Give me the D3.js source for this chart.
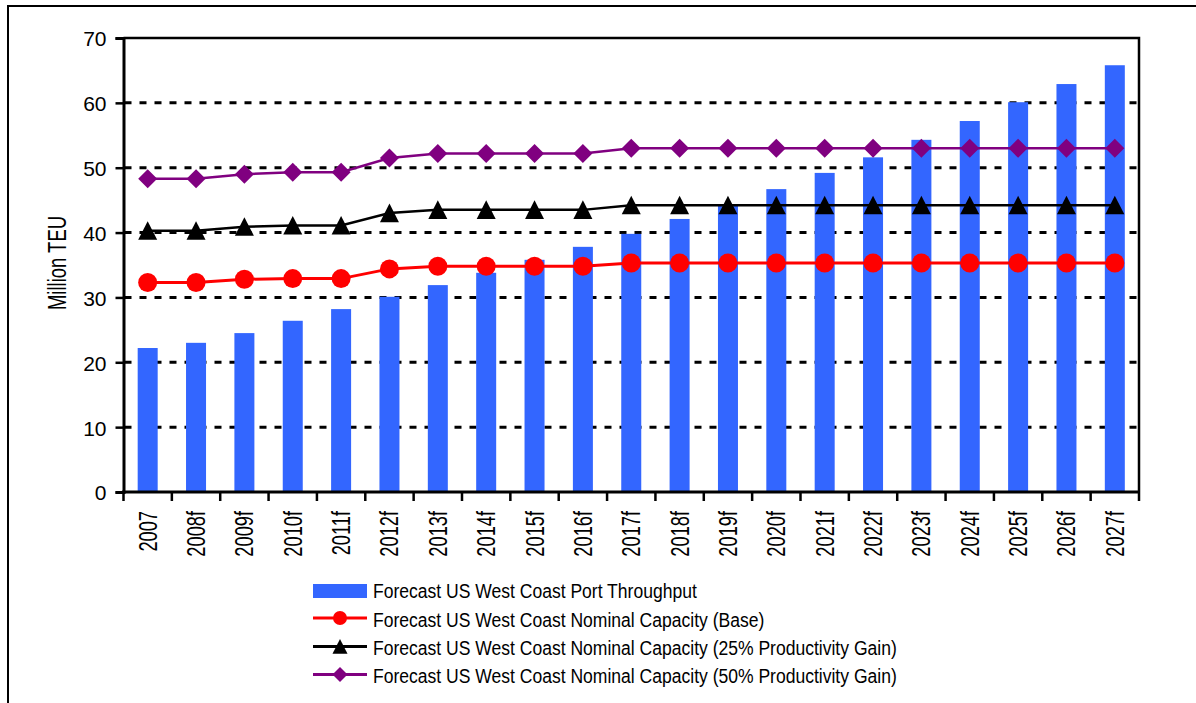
<!DOCTYPE html>
<html>
<head>
<meta charset="utf-8">
<script src="https://cdn.jsdelivr.net/npm/d3@7"></script>
<style>
  html, body { margin: 0; padding: 0; background: #fff; }
  svg { display: block; font-family: "Liberation Sans", Arial, sans-serif; }
</style>
</head>
<body>
<svg id="chart" width="1196" height="703"></svg>
<script>
// Years on the category axis
const years = ["2007", "2008f", "2009f", "2010f", "2011f", "2012f", "2013f", "2014f",
  "2015f", "2016f", "2017f", "2018f", "2019f", "2020f", "2021f", "2022f", "2023f",
  "2024f", "2025f", "2026f", "2027f"];

// Forecast throughput (million TEU)
const throughput = [22.2, 23.0, 24.5, 26.4, 28.2, 30.1, 31.9, 33.8, 35.8, 37.8, 39.8,
  42.1, 44.4, 46.7, 49.2, 51.6, 54.3, 57.2, 60.1, 62.9, 65.8];

// Nominal capacity scenarios (million TEU)
const capacityBase = [32.3, 32.3, 32.8, 32.9, 32.9, 34.4, 34.8, 34.8, 34.8, 34.8, 35.3,
  35.3, 35.3, 35.3, 35.3, 35.3, 35.3, 35.3, 35.3, 35.3, 35.3];
const capacity25 = [40.3, 40.3, 40.9, 41.1, 41.1, 43.0, 43.5, 43.5, 43.5, 43.5, 44.2,
  44.2, 44.2, 44.2, 44.2, 44.2, 44.2, 44.2, 44.2, 44.2, 44.2];
const capacity50 = [48.3, 48.3, 49.0, 49.3, 49.3, 51.5, 52.2, 52.2, 52.2, 52.2, 53.0,
  53.0, 53.0, 53.0, 53.0, 53.0, 53.0, 53.0, 53.0, 53.0, 53.0];

const yTicks = [0, 10, 20, 30, 40, 50, 60, 70];
const yTitle = "Million TEU";

const legendLabels = [
  "Forecast US West Coast Port Throughput",
  "Forecast US West Coast Nominal Capacity (Base)",
  "Forecast US West Coast Nominal Capacity (25% Productivity Gain)",
  "Forecast US West Coast Nominal Capacity (50% Productivity Gain)"
];

const svg = d3.select("#chart");
const plotL = 123.5, plotR = 1139, plotT = 38, plotB = 492;

const x = d3.scaleBand().domain(years).range([plotL, plotR]).padding(0);
const y = d3.scaleLinear().domain([0, 70]).range([plotB, plotT]);

// outer frame
svg.append("rect")
  .attr("x", 8).attr("y", 6).attr("width", 1300).attr("height", 800)
  .attr("fill", "none").attr("stroke", "#000").attr("stroke-width", 2);

// dashed gridlines
svg.append("g").selectAll("line")
  .data(yTicks.filter(t => t > 0 && t < 70))
  .join("line")
  .attr("x1", plotL + 1).attr("x2", plotR)
  .attr("y1", d => y(d)).attr("y2", d => y(d))
  .attr("stroke", "#000").attr("stroke-width", 3)
  .attr("stroke-dasharray", "7,8");

// throughput bars
const barW = 20;
svg.append("g").selectAll("rect")
  .data(throughput)
  .join("rect")
  .attr("x", (d, i) => x(years[i]) + x.bandwidth() / 2 - barW / 2)
  .attr("width", barW)
  .attr("y", d => y(d))
  .attr("height", d => y(0) - y(d))
  .attr("fill", "#3366FF");

// plot frame (top and right)
svg.append("path")
  .attr("d", `M${plotL},${plotT}H${plotR}V${plotB}`)
  .attr("fill", "none").attr("stroke", "#000").attr("stroke-width", 2.5);

// y axis
const yAxis = d3.axisLeft(y).tickValues(yTicks).tickSize(8).tickPadding(9);
const gy = svg.append("g").attr("transform", `translate(${plotL},0)`).call(yAxis);
gy.select(".domain").attr("stroke-width", 3);
gy.selectAll(".tick line").attr("stroke-width", 2.5);
gy.selectAll(".tick text")
  .attr("font-size", 21).attr("font-family", "Liberation Sans, Arial, sans-serif")
  .attr("fill", "#000").attr("dy", "0.38em");

// x axis: ticks at band boundaries
const gx = svg.append("g");
gx.append("line").attr("x1", plotL - 1.5).attr("x2", plotR + 1)
  .attr("y1", plotB).attr("y2", plotB)
  .attr("stroke", "#000").attr("stroke-width", 3);
gx.selectAll("line.tk")
  .data(years.concat(["end"]))
  .join("line").attr("class", "tk")
  .attr("x1", (d, i) => i < years.length ? x(d) : plotR)
  .attr("x2", (d, i) => i < years.length ? x(d) : plotR)
  .attr("y1", plotB).attr("y2", plotB + 9)
  .attr("stroke", "#000").attr("stroke-width", 2.5);

// rotated year labels (condensed face)
gx.selectAll("text")
  .data(years)
  .join("text")
  .attr("transform", d => `translate(${x(d) + x.bandwidth() / 2},511) rotate(-90) scale(0.73,1)`)
  .attr("text-anchor", "end")
  .attr("dy", "0.36em")
  .attr("font-size", 25)
  .attr("fill", "#000")
  .text(d => d);

// y axis title
svg.append("text")
  .attr("transform", `translate(57,263) rotate(-90) scale(0.74,1)`)
  .attr("text-anchor", "middle")
  .attr("dy", "0.36em")
  .attr("font-size", 25)
  .attr("fill", "#000")
  .text(yTitle);

// capacity lines and markers
const cx = i => x(years[i]) + x.bandwidth() / 2;
const line = d3.line().x((d, i) => cx(i)).y(d => y(d));

const series = [
  { data: capacityBase, color: "#FF0000", width: 3, shape: "circle" },
  { data: capacity25, color: "#000000", width: 2.5, shape: "triangle" },
  { data: capacity50, color: "#800080", width: 2.5, shape: "diamond" }
];

function markerPath(shape, s) {
  // s: half-size of marker
  if (shape === "triangle") return `M0,${-s}L${s},${s * 0.95}L${-s},${s * 0.95}Z`;
  if (shape === "diamond") return `M0,${-s}L${s},0L0,${s}L${-s},0Z`;
  return null;
}

series.forEach(sr => {
  svg.append("path").datum(sr.data)
    .attr("d", line)
    .attr("fill", "none").attr("stroke", sr.color).attr("stroke-width", sr.width);
  const g = svg.append("g");
  if (sr.shape === "circle") {
    g.selectAll("circle").data(sr.data).join("circle")
      .attr("cx", (d, i) => cx(i)).attr("cy", d => y(d)).attr("r", 9.5)
      .attr("fill", sr.color);
  } else {
    g.selectAll("path").data(sr.data).join("path")
      .attr("transform", (d, i) => `translate(${cx(i)},${y(d)})`)
      .attr("d", markerPath(sr.shape, 9.5))
      .attr("fill", sr.color);
  }
});

// legend
const lg = svg.append("g");
const rowY = [591, 619.5, 648, 676];
const symX0 = 313, symX1 = 367, symC = 340;
lg.append("rect").attr("x", symX0).attr("y", rowY[0] - 7).attr("width", symX1 - symX0).attr("height", 14)
  .attr("fill", "#3366FF");
series.forEach((sr, k) => {
  const yy = rowY[k + 1] - 1.5;
  lg.append("line").attr("x1", symX0).attr("x2", symX1).attr("y1", yy).attr("y2", yy)
    .attr("stroke", sr.color).attr("stroke-width", 3);
  if (sr.shape === "circle") {
    lg.append("circle").attr("cx", symC).attr("cy", yy).attr("r", 7).attr("fill", sr.color);
  } else {
    lg.append("path").attr("transform", `translate(${symC},${yy})`)
      .attr("d", markerPath(sr.shape, 7.5)).attr("fill", sr.color);
  }
});
lg.selectAll("text").data(legendLabels).join("text")
  .attr("transform", (d, i) => `translate(373,${rowY[i]}) scale(0.877,1)`)
  .attr("dy", "0.35em")
  .attr("font-size", 20)
  .attr("fill", "#000")
  .text(d => d);
</script>
</body>
</html>
